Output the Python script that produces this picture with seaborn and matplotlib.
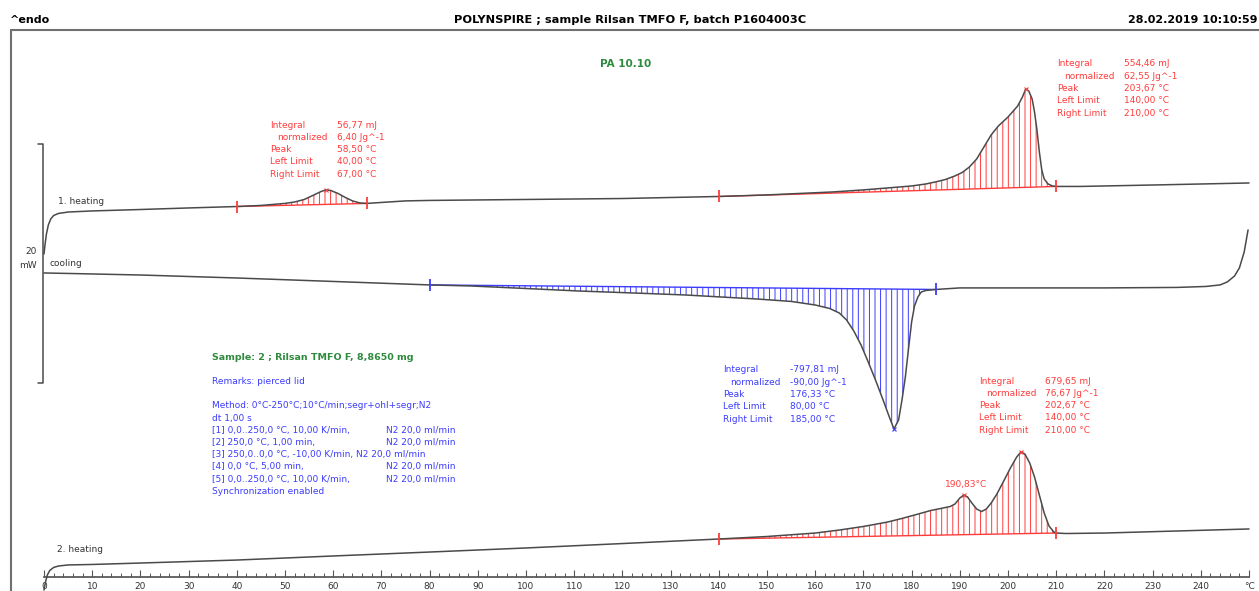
import numpy as np
import matplotlib.pyplot as plt
from matplotlib.lines import Line2D
from matplotlib.ticker import FixedLocator
import seaborn as sns

sns.set_theme(style="white")
plt.rcParams['font.family'] = ['DejaVu Sans']
plt.rcParams['hatch.linewidth'] = 0.7

# DSC curves: temperature (°C) and heat flow (mW, curves shifted as in STARe)
heat1_t = [0, 0.2, 0.5, 0.9, 1.4, 2, 3, 5, 10, 20,
           30, 40, 45, 50, 52, 54, 56, 57.5, 58.5, 59.5,
           61, 62.5, 64, 65.5, 67, 70, 75, 80, 100, 120,
           140, 150, 163.7, 170, 177.6, 180, 183, 185, 187, 189,
           190.5, 192, 193.5, 195, 196.5, 198, 200, 202, 203, 203.67,
           204.3, 205, 205.5, 206, 206.5, 207, 207.5, 208.3, 209.2, 210,
           215, 230, 250]
heat1_mw = [28.20, 28.95, 29.87, 30.63, 31.13, 31.42, 31.59, 31.71, 31.80, 31.92,
            32.05, 32.17, 32.26, 32.43, 32.55, 32.76, 33.14, 33.43, 33.56, 33.51,
            33.26, 32.93, 32.64, 32.47, 32.43, 32.51, 32.64, 32.68, 32.76, 32.84,
            33.01, 33.14, 33.39, 33.56, 33.81, 33.89, 34.06, 34.23, 34.43, 34.73,
            35.02, 35.48, 36.15, 37.15, 38.16, 38.91, 39.66, 40.58, 41.34, 42.01,
            41.84, 41.17, 40.08, 38.58, 36.74, 35.23, 34.48, 34.06, 33.89, 33.85,
            33.85, 33.97, 34.14]

cool_t = [0, 5, 20, 40, 60, 80, 88.7, 100, 111, 122,
          133, 148, 155, 160, 163, 165, 166.5, 168, 169.5, 171,
          172.5, 174, 175.3, 176.33, 177.3, 178, 178.7, 179.4, 180, 180.6,
          181.3, 182, 183, 185, 190, 200, 220, 235, 241, 244,
          245.5, 247, 248, 249, 249.8]
cool_mw = [26.61, 26.57, 26.44, 26.19, 25.90, 25.61, 25.52, 25.31, 25.10, 24.94,
           24.77, 24.43, 24.23, 23.93, 23.64, 23.26, 22.68, 21.76, 20.59, 19.16,
           17.66, 16.07, 14.64, 13.56, 14.31, 15.98, 17.91, 20.42, 22.51, 23.85,
           24.60, 25.02, 25.15, 25.23, 25.36, 25.36, 25.36, 25.40, 25.48, 25.61,
           25.86, 26.36, 27.03, 28.37, 30.21]

heat2_t = [0, 0.3, 0.7, 1.2, 2, 3, 5, 10, 20, 40,
           60, 80, 100, 120, 140, 150, 160, 165, 170, 175,
           178, 181, 184, 186, 188, 189, 190, 190.83, 191.6, 192.5,
           193.5, 194.5, 195.5, 196.5, 197.7, 199, 200.5, 201.8, 202.67, 203.5,
           204.5, 205.5, 206.5, 207.5, 208.5, 209.5, 210, 212, 220, 235,
           250]
heat2_mw = [0.08, 0.75, 1.34, 1.72, 1.97, 2.09, 2.18, 2.22, 2.34, 2.59,
            2.93, 3.26, 3.60, 3.97, 4.35, 4.56, 4.85, 5.10, 5.40, 5.77,
            6.07, 6.40, 6.74, 6.90, 7.07, 7.28, 7.78, 8.03, 7.87, 7.36,
            6.86, 6.65, 6.86, 7.36, 8.12, 9.12, 10.29, 11.21, 11.63, 11.46,
            10.71, 9.54, 8.03, 6.53, 5.44, 4.94, 4.85, 4.81, 4.85, 5.02,
            5.19]

# integration limits (°C) and peak temperatures
heat1_windows = [(40, 67), (140, 210)]
heat1_peaks = [58.5, 203.67]
cool_windows = [(80, 185)]
cool_peaks = [176.33]
heat2_windows = [(140, 210)]
heat2_peaks = [202.67, 190.83]

x_ticks = list(range(0, 251, 10))
x_minor = list(range(0, 251, 2))
x_labels = [str(v) for v in range(0, 250, 10)] + ["°C"]

result_labels = ["Integral", "normalized", "Peak", "Left Limit", "Right Limit"]
res_heat1_a = ["56,77 mJ", "6,40 Jg^-1", "58,50 °C", "40,00 °C", "67,00 °C"]
res_heat1_b = ["554,46 mJ", "62,55 Jg^-1", "203,67 °C", "140,00 °C", "210,00 °C"]
res_cool = ["-797,81 mJ", "-90,00 Jg^-1", "176,33 °C", "80,00 °C", "185,00 °C"]
res_heat2 = ["679,65 mJ", "76,67 Jg^-1", "202,67 °C", "140,00 °C", "210,00 °C"]

method_lines = [
    ("Method: 0°C-250°C;10°C/min;segr+ohl+segr;N2", ""),
    ("dt 1,00 s", ""),
    ("[1] 0,0..250,0 °C, 10,00 K/min,", "N2 20,0 ml/min"),
    ("[2] 250,0 °C, 1,00 min,", "N2 20,0 ml/min"),
    ("[3] 250,0..0,0 °C, -10,00 K/min, N2 20,0 ml/min", ""),
    ("[4] 0,0 °C, 5,00 min,", "N2 20,0 ml/min"),
    ("[5] 0,0..250,0 °C, 10,00 K/min,", "N2 20,0 ml/min"),
    ("Synchronization enabled", ""),
]

W, H = 1259, 591
RED = "#ff3c3c"
BLUE = "#3c3cff"
GREEN = "#2e8b3e"
CURVE = "#4a4a4a"
TXT = "#333333"

fig = plt.figure(figsize=(W / 100, H / 100), dpi=100)
ax = fig.add_axes([0, 0, 1, 1])
ax.set_xlim(-9.13, 252.07)
ax.set_ylim(0, 49.45)


def shade(t, mw, lo, hi, color):
    t = np.asarray(t, float)
    mw = np.asarray(mw, float)
    m = (t >= lo) & (t <= hi)
    tt, yy = t[m], mw[m]
    b0, b1 = np.interp(lo, t, mw), np.interp(hi, t, mw)
    base = np.interp(tt, [lo, hi], [b0, b1])
    ax.fill_between(tt, base, yy, facecolor="none", edgecolor=color,
                    hatch="|||", lw=0, zorder=1)
    ax.plot([lo, hi], [b0, b1], color=color, lw=1, zorder=2)
    ax.plot([lo, hi], [b0, b1], ls="none", marker="|", ms=9, mew=1.3,
            color=color, zorder=4)


def peak_mark(t, mw, pk, color):
    ax.plot(pk, np.interp(pk, t, mw), marker="x", ms=3, mew=0.8,
            color=color, zorder=4)


for lo, hi in heat1_windows:
    shade(heat1_t, heat1_mw, lo, hi, RED)
for lo, hi in cool_windows:
    shade(cool_t, cool_mw, lo, hi, BLUE)
for lo, hi in heat2_windows:
    shade(heat2_t, heat2_mw, lo, hi, RED)

for t, mw in [(heat1_t, heat1_mw), (cool_t, cool_mw), (heat2_t, heat2_mw)]:
    sns.lineplot(x=t, y=mw, ax=ax, color=CURVE, lw=1.1, zorder=3)

for pk in heat1_peaks:
    peak_mark(heat1_t, heat1_mw, pk, RED)
for pk in cool_peaks:
    peak_mark(cool_t, cool_mw, pk, BLUE)
for pk in heat2_peaks:
    peak_mark(heat2_t, heat2_mw, pk, RED)

# 20 mW scale bar
ax.plot([-1.2, -0.2, -0.2, -1.2], [37.4, 37.4, 17.4, 17.4], color=CURVE, lw=1.1)

# temperature axis
for s in ["left", "top", "right"]:
    ax.spines[s].set_visible(False)
ax.spines["bottom"].set_position(("data", 1.17))
ax.spines["bottom"].set_bounds(0, 250)
ax.spines["bottom"].set_color("#555555")
ax.set_xticks(x_ticks)
ax.set_xticklabels(x_labels)
ax.xaxis.set_minor_locator(FixedLocator(x_minor))
ax.tick_params(axis="x", which="major", direction="in", length=5, width=0.8,
               color="#555555", labelsize=6.5, labelcolor=TXT, pad=3.5, bottom=True)
ax.tick_params(axis="x", which="minor", direction="in", length=3, width=0.7,
               color="#555555", bottom=True)
ax.yaxis.set_visible(False)

# report frame
fig.add_artist(Line2D([11 / W, 1], [1 - 30 / H] * 2, color="#707070", lw=1.5))
fig.add_artist(Line2D([11 / W, 11 / W], [0, 1 - 30 / H], color="#707070", lw=1.5))


def put(x, y, s, **kw):
    kw.setdefault("fontsize", 6.5)
    kw.setdefault("color", TXT)
    fig.text(x / W, 1 - y / H, s, va="center", **kw)


put(10, 20, "^endo", fontsize=8, fontweight="bold", color="black")
put(630, 20, "POLYNSPIRE ; sample Rilsan TMFO F, batch P1604003C", fontsize=8.2,
    fontweight="bold", color="black", ha="center")
put(1257, 20, "28.02.2019 10:10:59", fontsize=8, fontweight="bold",
    color="black", ha="right")
put(626, 64, "PA 10.10", fontsize=7.5, fontweight="bold", color=GREEN, ha="center")

put(58, 201, "1. heating")
put(50, 264, "cooling")
put(57, 550, "2. heating")
put(37, 252, "20", ha="right")
put(37, 266, "mW", ha="right")


def block(x_lab, x_val, y_top, values, color):
    for i, (lab, val) in enumerate(zip(result_labels, values)):
        y = y_top + i * 12.3
        put(x_lab + (7 if i == 1 else 0), y, lab, color=color)
        put(x_val, y, val, color=color)


block(270, 337, 125, res_heat1_a, RED)
block(1057, 1124, 64, res_heat1_b, RED)
block(723, 790, 370, res_cool, BLUE)
block(979, 1045, 381, res_heat2, RED)
put(966, 485, "190,83°C", color=RED, ha="center")

put(212, 357, "Sample: 2 ; Rilsan TMFO F, 8,8650 mg", fontsize=6.8,
    fontweight="bold", color=GREEN)
put(212, 382, "Remarks: pierced lid", color=BLUE)
for i, (a, b) in enumerate(method_lines):
    y = 406 + i * 12.2
    put(212, y, a, color=BLUE)
    if b:
        put(386, y, b, color=BLUE)

fig.savefig("out.png", dpi=100)
